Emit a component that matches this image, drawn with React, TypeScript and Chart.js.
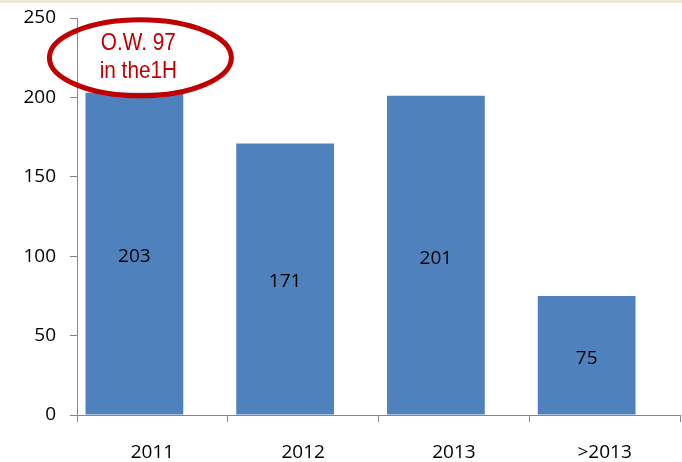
import React, { useEffect, useRef } from "react";
import { Chart, registerables } from "chart.js";

Chart.register(...registerables);

const categories = ["2011", "2012", "2013", ">2013"];
const values = [203, 171, 201, 75];
const emptySeries = [null, null, null, null];
const yTicks = [0, 50, 100, 150, 200, 250];
const noteLines = ["O.W. 97", "in the1H"];
const noteCategoryIndex = 0;
const noteValue = 225;

const BAR_COLOR = "#4F81BD";
const AXIS_COLOR = "#868686";
const NOTE_COLOR = "#C00000";
const TICK_FONT = "'Open Sans', 'DejaVu Sans', sans-serif";
const NOTE_FONT = "'Liberation Sans', Arial, sans-serif";

const extrasPlugin = {
  id: "extras",
  beforeDraw(chart: any) {
    const ctx = chart.ctx;
    ctx.save();
    ctx.fillStyle = "#ffffff";
    ctx.fillRect(0, 0, chart.width, chart.height);
    ctx.fillStyle = "#EEEADC";
    ctx.fillRect(0, 0, chart.width, 3);
    ctx.restore();
  },
  afterDatasetsDraw(chart: any) {
    const ctx = chart.ctx;
    const meta = chart.getDatasetMeta(0);
    ctx.save();
    ctx.fillStyle = "#000000";
    ctx.font = `19px ${TICK_FONT}`;
    ctx.textAlign = "center";
    ctx.textBaseline = "middle";
    meta.data.forEach((bar: any, i: number) => {
      const y = (bar.y + bar.base) / 2;
      ctx.fillText(String(values[i]), bar.x, y + 3);
    });
    ctx.restore();
  },
  afterDraw(chart: any) {
    const ctx = chart.ctx;
    const xs = chart.scales.x;
    const ys = chart.scales.y;
    const cx = xs.getPixelForValue(noteCategoryIndex) - 12;
    const cy = ys.getPixelForValue(noteValue);
    ctx.save();
    ctx.strokeStyle = NOTE_COLOR;
    ctx.lineWidth = 5;
    ctx.beginPath();
    ctx.ellipse(cx, cy, 91, 38, 0, 0, Math.PI * 2);
    ctx.stroke();
    ctx.fillStyle = NOTE_COLOR;
    ctx.font = `21px ${NOTE_FONT}`;
    ctx.textAlign = "center";
    ctx.textBaseline = "middle";
    ctx.save();
    ctx.translate(cx - 2, cy);
    ctx.scale(0.99, 1.1);
    ctx.fillText(noteLines[0], 0, -13);
    ctx.fillText(noteLines[1], 0, 13);
    ctx.restore();
    ctx.restore();
  },
};

export default function App() {
  const ref = useRef<HTMLCanvasElement | null>(null);

  useEffect(() => {
    if (!ref.current) return;
    const chart = new Chart(ref.current, {
      type: "bar",
      data: {
        labels: categories,
        datasets: [
          {
            data: values,
            backgroundColor: BAR_COLOR,
            borderWidth: 0,
            barPercentage: 2.72,
            categoryPercentage: 0.477,
          },
          {
            data: emptySeries,
            backgroundColor: "rgba(0,0,0,0)",
            borderWidth: 0,
            barPercentage: 2.72,
            categoryPercentage: 0.477,
          },
        ],
      },
      options: {
        animation: false,
        responsive: false,
        maintainAspectRatio: false,
        layout: { padding: { top: 18, right: 2, left: 0, bottom: 0 } },
        plugins: {
          legend: { display: false },
          tooltip: { enabled: false },
        },
        scales: {
          x: {
            grid: {
              display: true,
              drawOnChartArea: false,
              drawTicks: true,
              tickLength: 7,
              color: AXIS_COLOR,
              offset: true,
            },
            border: { display: true, color: AXIS_COLOR, width: 1 },
            ticks: {
              color: "#000000",
              font: { family: TICK_FONT, size: 19 },
              padding: 19,
              maxRotation: 0,
            },
            afterFit(scale: any) {
              scale.height = 47;
            },
          },
          y: {
            min: 0,
            max: 250,
            afterBuildTicks(scale: any) {
              scale.ticks = yTicks.map((v) => ({ value: v }));
            },
            grid: {
              display: true,
              drawOnChartArea: false,
              drawTicks: true,
              tickLength: 7,
              color: AXIS_COLOR,
            },
            border: { display: true, color: AXIS_COLOR, width: 1 },
            ticks: {
              color: "#000000",
              font: { family: TICK_FONT, size: 19 },
              padding: 14,
            },
            afterFit(scale: any) {
              scale.width = 77;
              scale.paddingTop = 0;
              scale.paddingBottom = 0;
            },
          },
        },
      },
      plugins: [extrasPlugin],
    });
    return () => chart.destroy();
  }, []);

  return (
    <div style={{ position: "absolute", left: 0, top: 0, width: 682, height: 462 }}>
      <canvas ref={ref} width={682} height={462} style={{ display: "block" }} />
    </div>
  );
}
